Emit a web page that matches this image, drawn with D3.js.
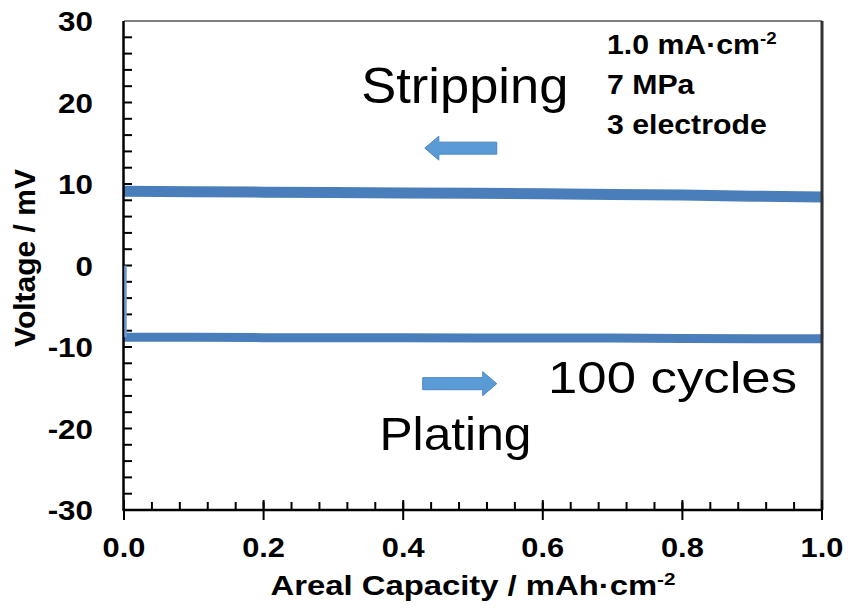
<!DOCTYPE html>
<html>
<head>
<meta charset="utf-8">
<script src="https://cdn.jsdelivr.net/npm/d3@7"></script>
<style>
  body { margin: 0; background: #fff; }
  text { font-family: "Liberation Sans", Arial, sans-serif; }
</style>
</head>
<body>
<div id="chart"></div>
<script>
// capacity (mAh/cm2) and voltage (mV)
var capacity = [0, 0.1, 0.2, 0.3, 0.4, 0.5, 0.6, 0.7, 0.8, 0.9, 1.0];
var stripping = [9.1, 9.05, 9.0, 8.95, 8.9, 8.85, 8.8, 8.7, 8.65, 8.5, 8.4];
var plating = [-8.8, -8.8, -8.85, -8.85, -8.85, -8.9, -8.9, -8.9, -8.95, -9.0, -9.0];
var xTicks = [0, 0.2, 0.4, 0.6, 0.8, 1.0];
var yTicks = [-30, -20, -10, 0, 10, 20, 30];
var conditions = ['1.0 mA·cm', '7 MPa', '3 electrode'];

var width = 848, height = 609,
    margin = {left: 124, top: 21, right: 26, bottom: 99},
    w = width - margin.left - margin.right,
    h = height - margin.top - margin.bottom;

var svg = d3.select('#chart').append('svg')
  .attr('width', width).attr('height', height);

var x = d3.scaleLinear().domain([0, 1]).range([margin.left, margin.left + w]);
var y = d3.scaleLinear().domain([-30, 30]).range([margin.top + h, margin.top]);

var blue = '#4a7ebb';

// stretch text horizontally by a factor
function stretch(sel, sx) {
  sel.each(function() {
    this.setAttribute('textLength', this.getComputedTextLength() * sx);
    this.setAttribute('lengthAdjust', 'spacingAndGlyphs');
  });
}

var upper = capacity.map((c, i) => [c, stripping[i]]);
var lower = capacity.map((c, i) => [c, plating[i]]);
var line = d3.line().x(d => x(d[0])).y(d => y(d[1]));

svg.append('path')
  .attr('d', line([[1, plating[10]], [1, stripping[10]]]))
  .attr('stroke', '#6d9ad6').attr('stroke-width', 2.5).attr('fill', 'none');

svg.append('path').attr('d', line(upper))
  .attr('stroke', blue).attr('stroke-width', 11).attr('fill', 'none');
svg.append('path').attr('d', line(lower))
  .attr('stroke', blue).attr('stroke-width', 9).attr('fill', 'none');

// frame: top and right
svg.append('line')
  .attr('x1', x(0)).attr('x2', x(1)).attr('y1', y(30)).attr('y2', y(30))
  .attr('stroke', '#555').attr('stroke-width', 1.5);
svg.append('line')
  .attr('x1', x(1)).attr('x2', x(1)).attr('y1', y(30)).attr('y2', y(-30))
  .attr('stroke', '#333').attr('stroke-width', 3);

// minor ticks
var g = svg.append('g');
g.selectAll('.ymin').data(d3.range(-28, 30, 2)).enter().append('line')
  .attr('x1', x(0)).attr('x2', x(0) + 8)
  .attr('y1', d => y(d)).attr('y2', d => y(d))
  .attr('stroke', '#000').attr('stroke-width', 2);
g.selectAll('.xmin').data(d3.range(1, 25).map(i => i * 0.04)).enter().append('line')
  .attr('x1', d => x(d)).attr('x2', d => x(d))
  .attr('y1', y(-30)).attr('y2', y(-30) - 8)
  .attr('stroke', '#000').attr('stroke-width', 2);
g.selectAll('.xmaj').data(xTicks).enter().append('line')
  .attr('x1', d => x(d)).attr('x2', d => x(d))
  .attr('y1', y(-30) - 10).attr('y2', y(-30) + 10)
  .attr('stroke', '#000').attr('stroke-width', 2);

// axes
svg.append('line')
  .attr('x1', x(0) - 0.5).attr('x2', x(0) - 0.5).attr('y1', y(30)).attr('y2', y(-30))
  .attr('stroke', '#000').attr('stroke-width', 2.5);
svg.append('line')
  .attr('x1', x(0) - 1.5).attr('x2', x(1) + 1).attr('y1', y(-30)).attr('y2', y(-30))
  .attr('stroke', '#000').attr('stroke-width', 2.5);

// thin step of the first plating, on top of the axis
svg.append('path')
  .attr('d', line([[0, 0], [0, plating[0]]]))
  .attr('transform', 'translate(1.5,0)')
  .attr('stroke', '#6d9ad6').attr('stroke-width', 2.5).attr('fill', 'none');

// tick labels
var yl = svg.selectAll('.ylab').data(yTicks).enter().append('text')
  .attr('x', x(0) - 31).attr('y', d => y(d)).attr('dy', '0.36em')
  .attr('text-anchor', 'end')
  .style('font-size', '28px').style('font-weight', 'bold')
  .text(d => d);
stretch(yl, 1.12);

var xl = svg.selectAll('.xlab').data(xTicks).enter().append('text')
  .attr('x', d => x(d)).attr('y', y(-30) + 47)
  .attr('text-anchor', 'middle')
  .style('font-size', '28px').style('font-weight', 'bold')
  .text(d => d3.format('.1f')(d));
stretch(xl, 1.1);

// axis titles
svg.append('text')
  .attr('transform', 'translate(35,258) rotate(-90)')
  .attr('text-anchor', 'middle')
  .style('font-size', '30px').style('font-weight', 'bold')
  .text('Voltage / mV');

var xt = svg.append('text')
  .attr('x', x(0.5)).attr('y', 595)
  .attr('text-anchor', 'middle')
  .style('font-size', '27px').style('font-weight', 'bold');
xt.append('tspan').text('Areal Capacity / mAh·cm');
xt.append('tspan').attr('dy', -10).style('font-size', '17px').text('-2');
xt.attr('textLength', 405).attr('lengthAdjust', 'spacingAndGlyphs');

// conditions box
var cond = svg.selectAll('.cond').data(conditions).enter().append('text')
  .attr('x', x(0.692)).attr('y', (d, i) => y(25.95 - i * 4.9))
  .style('font-size', '27.5px').style('font-weight', 'bold')
  .text(d => d);
cond.filter((d, i) => i === 0).append('tspan')
  .attr('dy', -10).style('font-size', '17px').text('-2');
stretch(cond, 1.1);

// annotations
var sTxt = svg.append('text').attr('x', x(0.34)).attr('y', y(19.95))
  .style('font-size', '50px').text('Stripping');
sTxt.attr('textLength', 207).attr('lengthAdjust', 'spacingAndGlyphs');
var cTxt = svg.append('text').attr('x', x(0.6075)).attr('y', y(-15.64))
  .style('font-size', '44px').text('100 cycles');
cTxt.attr('textLength', 249).attr('lengthAdjust', 'spacingAndGlyphs');
var pTxt = svg.append('text').attr('x', x(0.366)).attr('y', y(-22.64))
  .style('font-size', '47px').text('Plating');
pTxt.attr('textLength', 152).attr('lengthAdjust', 'spacingAndGlyphs');

// block arrows
function arrow(x0, x1, v) {
  var dir = x1 > x0 ? 1 : -1,
      ay = y(v), tip = x(x1), tail = x(x0),
      base = tip - dir * 14;
  var pts = [[tail, ay - 6], [base, ay - 6], [base, ay - 12], [tip, ay],
             [base, ay + 12], [base, ay + 6], [tail, ay + 6]];
  svg.append('path')
    .attr('d', 'M' + pts.join('L') + 'Z')
    .attr('fill', '#5b9bd5').attr('stroke', '#4a86c2').attr('stroke-width', 1);
}
arrow(0.534, 0.431, 14.4);
arrow(0.428, 0.534, -14.5);
</script>
</body>
</html>
